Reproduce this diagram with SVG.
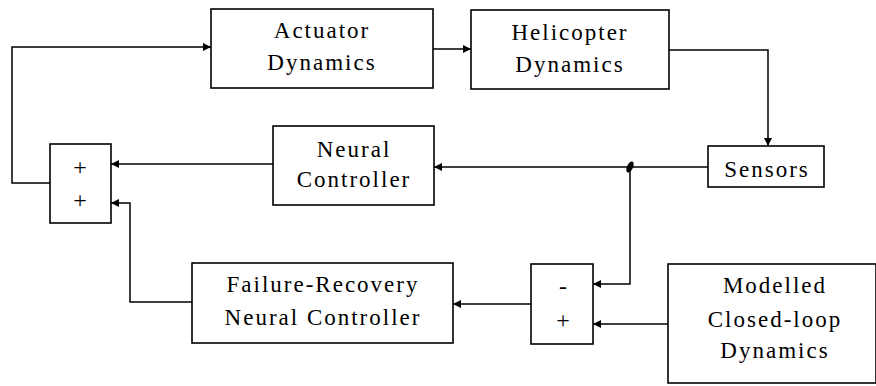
<svg xmlns="http://www.w3.org/2000/svg" width="876" height="386" viewBox="0 0 876 386">
<defs>
<marker id="ah" viewBox="0 0 10 10" refX="10" refY="5" markerWidth="8" markerHeight="8" markerUnits="userSpaceOnUse" orient="auto">
<path d="M0,0 L10,5 L0,10 z" fill="#000"/>
</marker>
</defs>
<style>
rect{fill:#fff;stroke:#000;stroke-width:1.6}
text{font-family:"Liberation Serif","Times New Roman",serif;font-size:23px;letter-spacing:2px;text-anchor:middle;fill:#000}
.s{font-size:24px;letter-spacing:0}
.c{fill:none;stroke:#000;stroke-width:1.5}
</style>
<rect x="0" y="0" width="876" height="386" style="stroke:none;fill:#fff"/>
<g id="connectors">
<path class="c" d="M50,183 H12 V47 H211" marker-end="url(#ah)"/>
<path class="c" d="M433,49 H471" marker-end="url(#ah)"/>
<path class="c" d="M669,50 H768 V146" marker-end="url(#ah)"/>
<path class="c" d="M708,167 H434" marker-end="url(#ah)"/>
<path class="c" d="M273,164 H111" marker-end="url(#ah)"/>
<path class="c" d="M630,167 V284 H593" marker-end="url(#ah)"/>
<path class="c" d="M668,324 H593" marker-end="url(#ah)"/>
<path class="c" d="M531,304 H453" marker-end="url(#ah)"/>
<path class="c" d="M192,302 H130 V203 H111" marker-end="url(#ah)"/>
<ellipse cx="630" cy="167" rx="3" ry="6" transform="rotate(25 630 167)" fill="#000"/>
</g>
<g id="actuator">
<rect x="211" y="9" width="222" height="79"/>
<text x="322" y="38">Actuator</text>
<text x="322" y="70">Dynamics</text>
</g>
<g id="helicopter">
<rect x="471" y="10" width="198" height="79"/>
<text x="570" y="40">Helicopter</text>
<text x="570" y="72">Dynamics</text>
</g>
<g id="sensors">
<rect x="708" y="146" width="116" height="41"/>
<text x="767" y="177">Sensors</text>
</g>
<g id="neural">
<rect x="273" y="126" width="161" height="79"/>
<text x="354" y="157">Neural</text>
<text x="354" y="187">Controller</text>
</g>
<g id="sum">
<rect x="50" y="144" width="61" height="79"/>
<text class="s" x="80" y="175">+</text>
<text class="s" x="80" y="208">+</text>
</g>
<g id="diff">
<rect x="531" y="264" width="62" height="80"/>
<text class="s" x="563" y="294">-</text>
<text class="s" x="563" y="328">+</text>
</g>
<g id="failure">
<rect x="192" y="263" width="261" height="80"/>
<text x="323" y="292">Failure-Recovery</text>
<text x="323" y="325">Neural Controller</text>
</g>
<g id="modelled">
<rect x="668" y="264" width="208" height="119"/>
<text x="775" y="293">Modelled</text>
<text x="775" y="327">Closed-loop</text>
<text x="775" y="358">Dynamics</text>
</g>
</svg>
